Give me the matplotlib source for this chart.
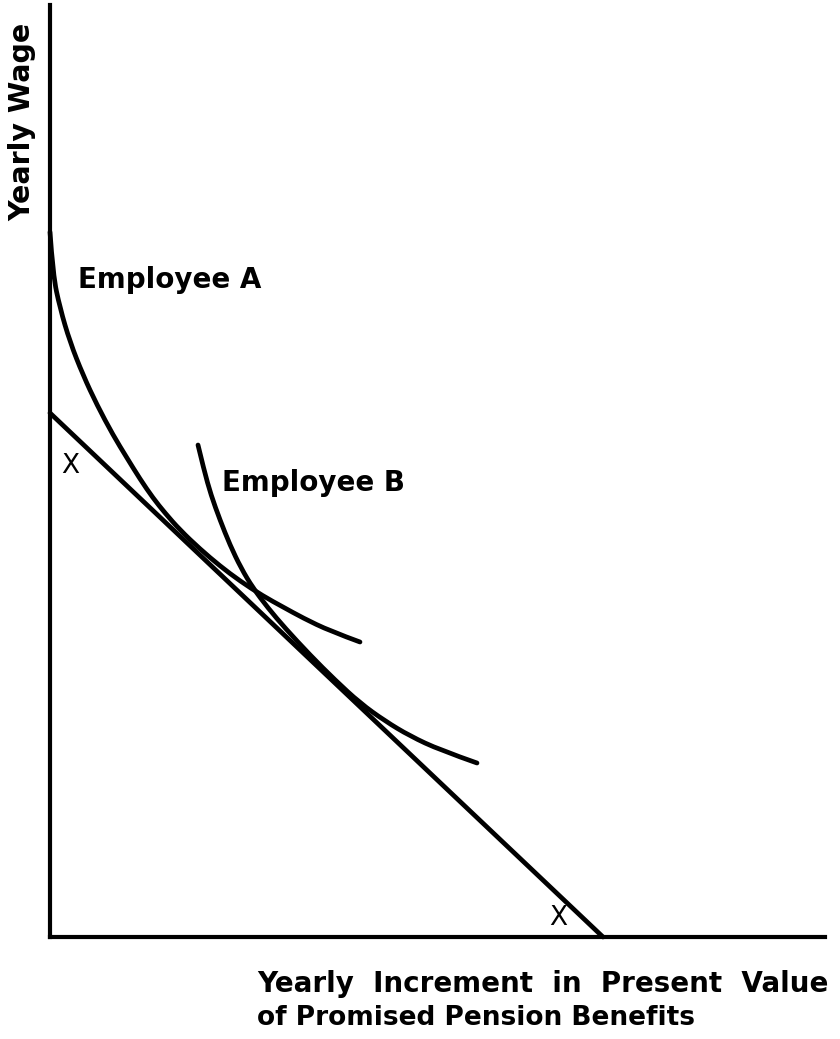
import matplotlib
matplotlib.use("Agg")
import matplotlib.pyplot as plt
from matplotlib.path import Path
from matplotlib.patches import PathPatch

# Budget (trade-off) line endpoints
line_x = [0, 553]
line_y = [524, 0]

# Indifference curve of Employee A
a_x = [0, 3, 10, 20, 33, 47, 63, 77, 90, 103, 115, 130, 150, 170, 190, 213, 233, 253, 280, 310]
a_y = [705, 662, 629, 595, 562, 532, 502, 479, 458, 439, 424, 407, 388, 371, 356, 341, 330, 319, 306, 295]

# Indifference curve of Employee B
b_x = [148, 154, 161, 170, 180, 191, 203, 218, 235, 260, 285, 310, 335, 360, 390, 427]
b_y = [492, 467, 442, 417, 392, 369, 349, 329, 309, 282, 257, 234, 216, 201, 187, 174]

# Annotations
labels = ["Employee A", "Employee B"]
label_pos = [(28, 657), (172, 454)]
x_marks = [(20, 471), (508, 19)]

W, H = 840, 1039
fig = plt.figure(figsize=(W / 100, H / 100), dpi=100)
ax = fig.add_axes([50 / W, 102 / H, 775 / W, 932 / H])
ax.set_xlim(0, 775)
ax.set_ylim(0, 932)

lw = 3.4


def smooth_curve(xs, ys):
    """Quadratic B-spline rendering of the control points."""
    pts = list(zip(xs, ys))
    verts = [pts[0]]
    codes = [Path.MOVETO]
    for i in range(1, len(pts) - 1):
        mid = ((pts[i][0] + pts[i + 1][0]) / 2, (pts[i][1] + pts[i + 1][1]) / 2)
        if i == len(pts) - 2:
            mid = pts[-1]
        verts += [pts[i], mid]
        codes += [Path.CURVE3, Path.CURVE3]
    return PathPatch(Path(verts, codes), facecolor="none", edgecolor="black",
                     lw=lw, capstyle="round", joinstyle="round", clip_on=False)


ax.plot(line_x, line_y, color="black", lw=lw, solid_capstyle="round", clip_on=False)
ax.add_patch(smooth_curve(a_x, a_y))
ax.add_patch(smooth_curve(b_x, b_y))

for s in ["top", "right"]:
    ax.spines[s].set_visible(False)
for s in ["left", "bottom"]:
    ax.spines[s].set_linewidth(3)
ax.set_xticks([])
ax.set_yticks([])

for txt, (x, y) in zip(labels, label_pos):
    ax.text(x, y, txt, fontsize=20, fontweight="bold", ha="left", va="center",
            family="DejaVu Sans")
for (x, y) in x_marks:
    ax.text(x, y, "X", fontsize=19, ha="center", va="center", family="DejaVu Sans")

fig.text(22 / W, 1 - 122 / H, "Yearly Wage", rotation=90, fontsize=20.5,
         fontweight="bold", ha="center", va="center")
fig.text(257 / W, 1 - 984 / H, "Yearly  Increment  in  Present  Value", fontsize=20,
         fontweight="bold", ha="left", va="center")
fig.text(257 / W, 1 - 1018 / H, "of Promised Pension Benefits", fontsize=19,
         fontweight="bold", ha="left", va="center")

fig.savefig("out.png", dpi=100)
